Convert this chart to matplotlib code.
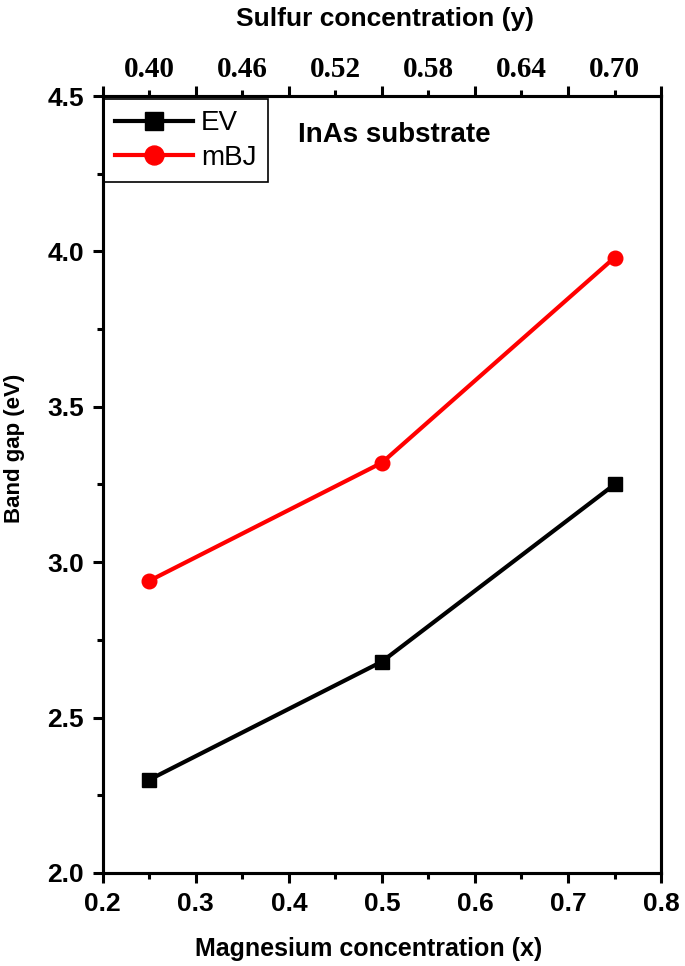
import matplotlib
matplotlib.use("Agg")
import matplotlib.pyplot as plt
from matplotlib.ticker import MultipleLocator, FixedLocator, NullFormatter

x_mg = [0.25, 0.5, 0.75]
ev = [2.30, 2.68, 3.25]
mbj = [2.94, 3.32, 3.98]
top_tick_pos = [0.25, 0.35, 0.45, 0.55, 0.65, 0.75]
top_tick_labels = ["0.40", "0.46", "0.52", "0.58", "0.64", "0.70"]

plt.rcParams['font.family'] = ['Liberation Sans', 'DejaVu Sans']

fig = plt.figure(figsize=(6.85, 9.66), dpi=100)
ax = fig.add_axes([0.150, 0.0963, 0.815, 0.8043])

ax.plot(x_mg, ev, color='black', lw=3.0, marker='s', ms=9.5, label='EV')
ax.plot(x_mg, mbj, color='red', lw=3.0, marker='o', ms=10.5, label='mBJ')

ax.set_xlim(0.2, 0.8)
ax.set_ylim(2.0, 4.5)
ax.xaxis.set_major_locator(MultipleLocator(0.1))
ax.xaxis.set_minor_locator(MultipleLocator(0.05))
ax.yaxis.set_major_locator(MultipleLocator(0.5))
ax.yaxis.set_minor_locator(MultipleLocator(0.25))
ax.xaxis.set_major_formatter(plt.FuncFormatter(lambda v, p: f"{v:.1f}"))
ax.yaxis.set_major_formatter(plt.FuncFormatter(lambda v, p: f"{v:.1f}"))

for s in ax.spines.values():
    s.set_linewidth(2.2)

ax.tick_params(axis='both', which='major', direction='out', length=7.5, width=2.2,
               labelsize=19)
ax.tick_params(axis='x', which='major', pad=6)
ax.tick_params(axis='y', which='major', pad=6)
ax.tick_params(axis='both', which='minor', direction='out', length=4.5, width=2.2)
ax.tick_params(axis='x', which='both', top=False)
ax.tick_params(axis='y', which='both', right=False)
for lab in ax.get_xticklabels() + ax.get_yticklabels():
    lab.set_fontweight('bold')

ax.set_xlabel('Magnesium concentration (x)', fontsize=18, fontweight='bold')
ax.set_ylabel('Band gap (eV)', fontsize=16, fontweight='bold')
ax.xaxis.set_label_coords(0.477, -0.082)
ax.yaxis.set_label_coords(-0.14, 0.546)

# top axis
ax2 = ax.twiny()
ax2.set_xlim(ax.get_xlim())
ax2.xaxis.set_major_locator(MultipleLocator(0.1))
ax2.xaxis.set_major_formatter(NullFormatter())
ax2.xaxis.set_minor_locator(FixedLocator(top_tick_pos))
ax2.set_xticklabels(top_tick_labels, minor=True)
ax2.tick_params(axis='x', which='major', direction='out', length=7.5, width=2.2)
ax2.tick_params(axis='x', which='minor', direction='out', length=4.5, width=2.2,
                labelsize=21, pad=5)
for lab in ax2.get_xticklabels(minor=True):
    lab.set_fontweight('bold')
    lab.set_fontfamily(['Liberation Serif', 'DejaVu Serif'])
ax2.set_xlabel('Sulfur concentration (y)', fontsize=19, fontweight='bold')
ax2.xaxis.set_label_coords(0.506, 1.090)
for s in ax2.spines.values():
    s.set_linewidth(2.2)

leg = ax.legend(loc='upper left', bbox_to_anchor=(0.002, 0.996), fontsize=20,
                frameon=True, fancybox=False, edgecolor='black', framealpha=1,
                handlelength=2.8, borderpad=0.4, labelspacing=0.3,
                handletextpad=0.3, borderaxespad=0.0, markerscale=1.3)
leg.get_frame().set_linewidth(1.2)

ax.text(0.349, 0.966, 'InAs substrate', transform=ax.transAxes, fontsize=20,
        fontweight='bold', ha='left', va='top')

fig.savefig('out.png', dpi=100)
